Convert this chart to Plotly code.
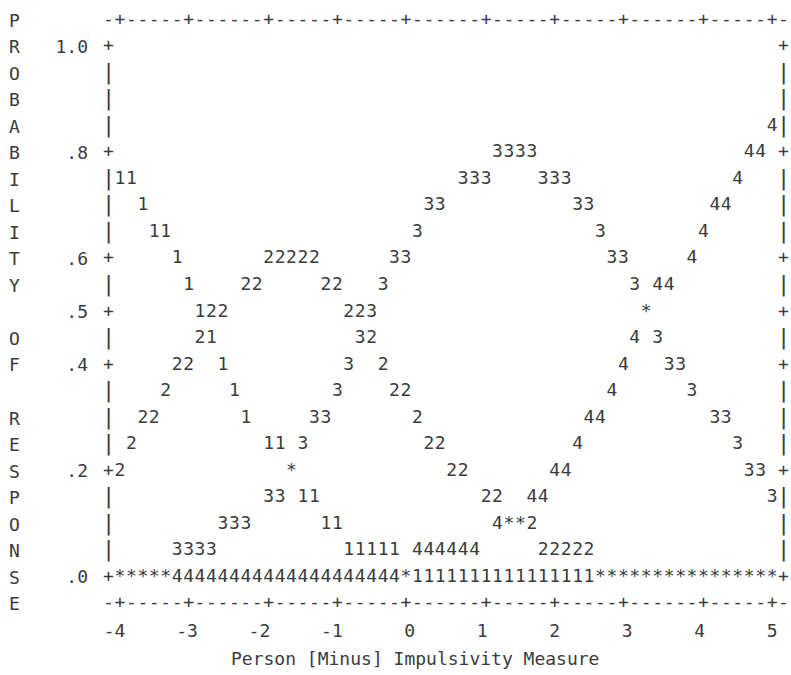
import plotly.graph_objects as go

# Category probability curves, one printed character per grid cell
# (measure in logits, probability of responding in that category)
cat1_measure = [-4.000, -3.842, -3.684, -3.526, -3.368, -3.211, -3.053, -2.895, -2.737, -2.579,
                -2.421, -2.263, -1.947, -1.789, -1.632, -1.474, -1.316, -1.158, -1.000, -0.842,
                -0.684, -0.526, -0.368, -0.211, -0.053, 0.105, 0.263, 0.421, 0.579, 0.737,
                0.895, 1.053, 1.211, 1.368, 1.526, 1.684, 1.842, 2.000, 2.158, 2.316,
                2.474, 2.632, 2.789, 2.947, 3.105, 3.263, 3.421, 3.579, 3.737, 3.895,
                4.053, 4.211, 4.368, 4.526, 4.684, 4.842, 5.000]
cat1_prob = [0.75, 0.75, 0.70, 0.65, 0.65, 0.60, 0.55, 0.50, 0.45, 0.40,
             0.35, 0.30, 0.25, 0.25, 0.20, 0.15, 0.15, 0.10, 0.10, 0.05,
             0.05, 0.05, 0.05, 0.05, 0.00, 0.00, 0.00, 0.00, 0.00, 0.00,
             0.00, 0.00, 0.00, 0.00, 0.00, 0.00, 0.00, 0.00, 0.00, 0.00,
             0.00, 0.00, 0.00, 0.00, 0.00, 0.00, 0.00, 0.00, 0.00, 0.00,
             0.00, 0.00, 0.00, 0.00, 0.00, 0.00, 0.00]

cat2_measure = [-4.000, -3.842, -3.684, -3.526, -3.368, -3.211, -3.053, -2.895, -2.737, -2.579,
                -2.263, -2.105, -1.947, -1.789, -1.632, -1.474, -1.316, -1.158, -1.000, -0.842,
                -0.684, -0.526, -0.368, -0.211, -0.053, 0.105, 0.263, 0.421, 0.579, 0.737,
                1.053, 1.211, 1.368, 1.526, 1.684, 1.842, 2.000, 2.158, 2.316, 2.474,
                2.632, 2.789, 2.947, 3.105, 3.263, 3.421, 3.579, 3.737, 3.895, 4.053,
                4.211, 4.368, 4.526, 4.684, 4.842, 5.000]
cat2_prob = [0.20, 0.25, 0.30, 0.30, 0.35, 0.40, 0.40, 0.45, 0.50, 0.50,
             0.55, 0.55, 0.60, 0.60, 0.60, 0.60, 0.60, 0.55, 0.55, 0.50,
             0.50, 0.45, 0.40, 0.35, 0.35, 0.30, 0.25, 0.25, 0.20, 0.20,
             0.15, 0.15, 0.10, 0.10, 0.10, 0.05, 0.05, 0.05, 0.05, 0.05,
             0.00, 0.00, 0.00, 0.00, 0.00, 0.00, 0.00, 0.00, 0.00, 0.00,
             0.00, 0.00, 0.00, 0.00, 0.00, 0.00]

cat3_measure = [-4.000, -3.842, -3.684, -3.526, -3.368, -3.211, -3.053, -2.895, -2.737, -2.579,
                -2.421, -2.263, -1.947, -1.789, -1.632, -1.474, -1.316, -1.158, -1.000, -0.842,
                -0.684, -0.526, -0.368, -0.211, -0.053, 0.105, 0.263, 0.421, 0.737, 0.895,
                1.053, 1.211, 1.368, 1.526, 1.684, 1.842, 2.000, 2.158, 2.316, 2.474,
                2.632, 2.789, 2.947, 3.105, 3.263, 3.421, 3.579, 3.737, 3.895, 4.211,
                4.368, 4.526, 4.684, 4.842, 5.000]
cat3_prob = [0.00, 0.00, 0.00, 0.00, 0.00, 0.05, 0.05, 0.05, 0.05, 0.10,
             0.10, 0.10, 0.15, 0.15, 0.20, 0.25, 0.30, 0.30, 0.35, 0.40,
             0.45, 0.50, 0.55, 0.60, 0.60, 0.65, 0.70, 0.70, 0.75, 0.75,
             0.75, 0.80, 0.80, 0.80, 0.80, 0.75, 0.75, 0.75, 0.70, 0.70,
             0.65, 0.60, 0.60, 0.55, 0.50, 0.45, 0.40, 0.40, 0.35, 0.30,
             0.30, 0.25, 0.20, 0.20, 0.15]

cat4_measure = [-4.000, -3.842, -3.684, -3.526, -3.368, -3.211, -3.053, -2.895, -2.737, -2.579,
                -2.421, -2.263, -2.105, -1.947, -1.789, -1.632, -1.474, -1.316, -1.158, -1.000,
                -0.842, -0.684, -0.526, -0.368, -0.211, -0.053, 0.105, 0.263, 0.421, 0.579,
                0.737, 0.895, 1.211, 1.368, 1.526, 1.684, 1.842, 2.000, 2.158, 2.316,
                2.474, 2.632, 2.789, 2.947, 3.105, 3.263, 3.421, 3.579, 3.895, 4.053,
                4.211, 4.368, 4.526, 4.684, 4.842, 5.000]
cat4_prob = [0.00, 0.00, 0.00, 0.00, 0.00, 0.00, 0.00, 0.00, 0.00, 0.00,
             0.00, 0.00, 0.00, 0.00, 0.00, 0.00, 0.00, 0.00, 0.00, 0.00,
             0.00, 0.00, 0.00, 0.00, 0.00, 0.00, 0.05, 0.05, 0.05, 0.05,
             0.05, 0.05, 0.10, 0.10, 0.10, 0.15, 0.15, 0.20, 0.20, 0.25,
             0.30, 0.30, 0.35, 0.40, 0.45, 0.50, 0.55, 0.55, 0.60, 0.65,
             0.70, 0.70, 0.75, 0.80, 0.80, 0.85]

categories = [("1", cat1_measure, cat1_prob),
              ("2", cat2_measure, cat2_prob),
              ("3", cat3_measure, cat3_prob),
              ("4", cat4_measure, cat4_prob)]

x_ticks = [-4, -3, -2, -1, 0, 1, 2, 3, 4, 5]
x_tick_text = ["-4", "-3", "-2", "-1", "0", "1", "2", "3", "4", "5"]
y_ticks = [0.0, 0.2, 0.4, 0.5, 0.6, 0.8, 1.0]
y_tick_text = [".0", ".2", ".4", ".5", ".6", ".8", "1.0"]

x_title = "Person [Minus] Impulsivity Measure"
y_title = "PROBABILITY OF RESPONSE"

# ---- character-grid geometry -------------------------------------------
FONT = "DejaVu Sans Mono"
SIZE = 18
INK = "#3b3b3b"
X0, X1, COLS = -4.0, 5.0, 57          # 57 character columns from -4 to 5
STEP = (X1 - X0) / COLS
ROW = 0.05                            # one text line per 0.05 of probability
X_RANGE = [-4.1648, 5.2198]
Y_RANGE = [-0.0547, 1.0528]


def cell(x, p):
    return round((x - X0) / STEP), round(p / ROW)


def col_x(c):
    return X0 + c * STEP


def text_trace(xs, ys, chars, size=SIZE):
    return go.Scatter(x=xs, y=ys, mode="text", text=chars,
                      textposition="middle center",
                      textfont=dict(family=FONT, size=size, color=INK),
                      hoverinfo="skip", showlegend=False, cliponaxis=False)


def paper_y(p):
    return (p - Y_RANGE[0]) / (Y_RANGE[1] - Y_RANGE[0])


# cells hit by more than one category are printed as "*"
cells = {}
for label, xs, ps in categories:
    for x, p in zip(xs, ps):
        cells.setdefault(cell(x, p), []).append((label, x, p))

fig = go.Figure()
for label, xs, ps in categories:
    pts = [(x, p) for x, p in zip(xs, ps) if len(cells[cell(x, p)]) == 1]
    fig.add_trace(text_trace([x for x, _ in pts], [p for _, p in pts], [label] * len(pts)))

shared = [v[0] for v in cells.values() if len(v) > 1]
fig.add_trace(text_trace([s[1] for s in shared], [s[2] for s in shared], ["*"] * len(shared)))

# ---- text frame: dashed rules top and bottom, bars down the sides --------
hx, hy, ht = [], [], []
tick_cols = {round((t - X0) / STEP) for t in x_ticks}
for edge_p in (1 + ROW, -ROW):
    for c in range(-1, COLS + 2):
        hx.append(col_x(c)); hy.append(edge_p)
        ht.append("+" if c in tick_cols else "-")

bx, by = [], []
for edge_x in (col_x(-1), col_x(COLS + 1)):
    for r in range(0, 21):
        p = round(1 - r * ROW, 2)
        if any(abs(p - v) < 1e-9 for v in y_ticks):
            hx.append(edge_x); hy.append(p); ht.append("+")
        else:
            bx.append(edge_x); by.append(p)
fig.add_trace(text_trace(hx, hy, ht))
fig.add_trace(text_trace(bx, by, ["|"] * len(bx), size=22))

# ---- vertical axis caption, one letter per text line ----------------------
for i, ch in enumerate(y_title):
    if ch.strip():
        fig.add_annotation(x=-0.1382, xref="paper", y=paper_y(1 + ROW - i * ROW), yref="paper",
                           text=ch, showarrow=False, xanchor="center", yanchor="middle",
                           font=dict(family=FONT, size=SIZE, color=INK))

fig.add_annotation(x=0.4515, xref="paper", y=paper_y(-0.154), yref="paper", text=x_title,
                   showarrow=False, xanchor="center", yanchor="middle",
                   font=dict(family=FONT, size=SIZE, color=INK))

fig.update_layout(
    width=791, height=675,
    margin=dict(l=108, r=3, t=19, b=69),
    paper_bgcolor="white", plot_bgcolor="white",
    showlegend=False,
    xaxis=dict(range=X_RANGE, tickvals=x_ticks,
               ticktext=[t + "\u00a0" if t.startswith("-") else t for t in x_tick_text],
               ticks="", showgrid=False, zeroline=False, showline=False,
               automargin=False, ticklabelstandoff=12,
               tickfont=dict(family=FONT, size=SIZE, color=INK)),
    yaxis=dict(range=Y_RANGE, tickvals=y_ticks, ticktext=y_tick_text,
               ticks="", showgrid=False, zeroline=False, showline=False,
               automargin=False, ticklabelstandoff=19,
               tickfont=dict(family=FONT, size=SIZE, color=INK)),
)

fig.write_html("out.html")
